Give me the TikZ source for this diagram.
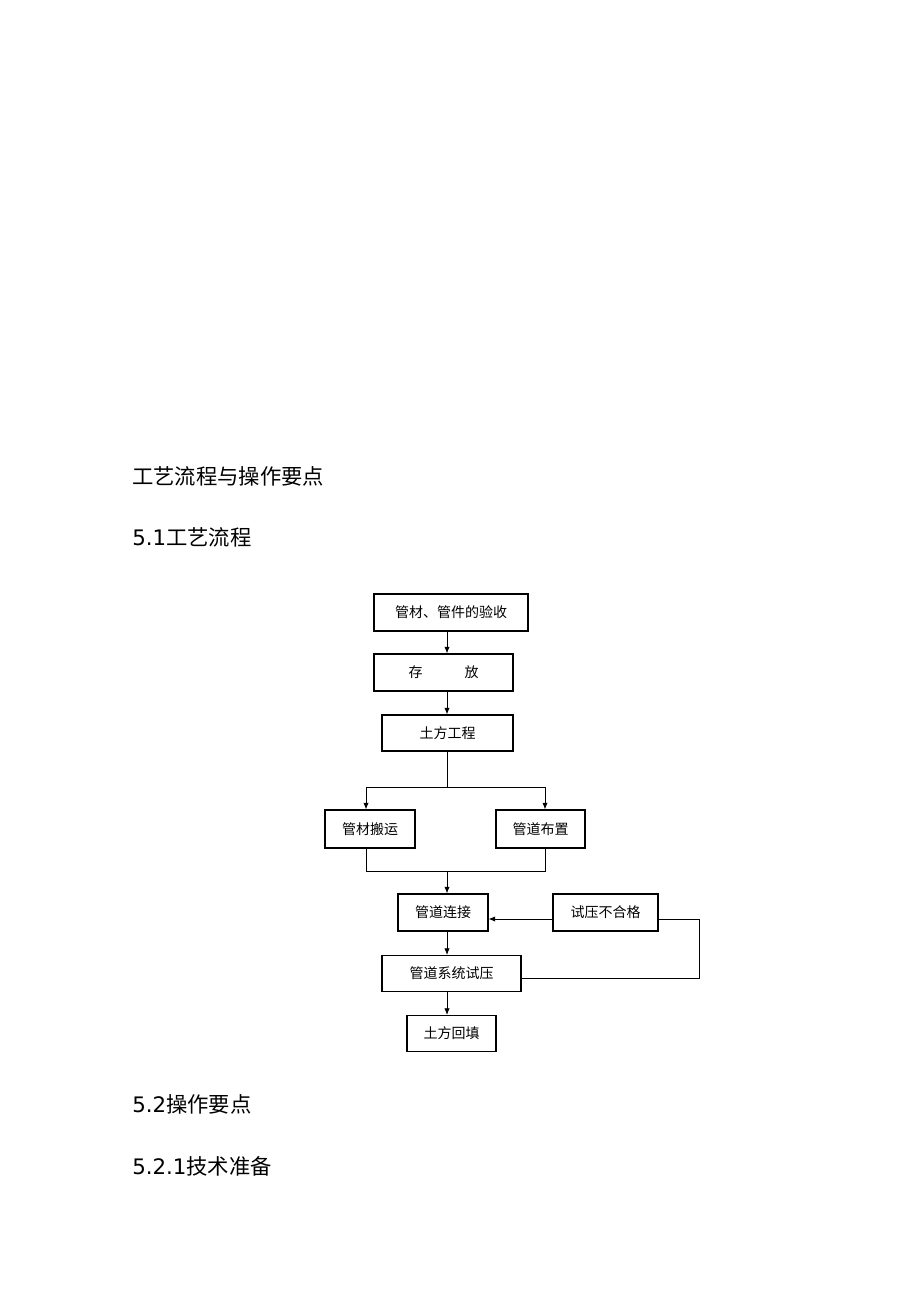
\documentclass[tikz,border=0pt]{standalone}
\usepackage{fontspec}
\setmainfont{DejaVu Sans}
\newfontfamily\cjk{Noto Sans CJK SC}
\usetikzlibrary{arrows.meta}
\tikzset{
  flowbox/.style={draw,line width=0.8pt,inner sep=0pt,font=\cjk\fontsize{10.5}{12}\selectfont},
  heading/.style={anchor=west,inner sep=0pt,font=\fontsize{16}{18}\selectfont},
  flowline/.style={line width=0.6pt},
  flowarrow/.style={line width=0.6pt,-{Latex[length=5pt,width=4pt]}}
}
\begin{document}
\begin{tikzpicture}[x=0.75pt,y=0.75pt,yscale=-1,xscale=1]
\useasboundingbox (0,0) rectangle (920,1303);

% Headings
\node[heading] (h1) at (132,476) {\cjk 工艺流程与操作要点};
\node[heading] (h2) at (132,537) {5.1\cjk 工艺流程};
\node[heading] (h3) at (132,1104) {5.2\cjk 操作要点};
\node[heading] (h4) at (132,1166) {5.2.1\cjk 技术准备};

% Boxes
\node[flowbox,minimum width=115.5pt,minimum height=27.75pt] (yanshou) at (451,612.5) {管材、管件的验收};
\node[flowbox,minimum width=104.25pt,minimum height=27.75pt] (cunfang) at (443.5,672.5) {存\hspace{3em}放};
\node[flowbox,minimum width=98.25pt,minimum height=27pt] (tufang) at (447.5,733) {土方工程};
\node[flowbox,minimum width=67.5pt,minimum height=28.5pt] (banyun) at (370,829) {管材搬运};
\node[flowbox,minimum width=66.75pt,minimum height=28.5pt] (buzhi) at (540.5,829) {管道布置};
\node[flowbox,minimum width=67.5pt,minimum height=27.75pt] (lianjie) at (443,912.5) {管道连接};
\node[flowbox,minimum width=78.75pt,minimum height=27.75pt] (buhege) at (605.5,912.5) {试压不合格};
\node[flowbox,minimum width=104.25pt,minimum height=27pt,anchor=north,inner sep=4pt] (shiya) at (451.5,955) {管道系统试压};
\node[flowbox,minimum width=66.75pt,minimum height=27pt,anchor=north,inner sep=4pt] (huitian) at (451.5,1015) {土方回填};

% Connectors
\coordinate (split) at (447,787);
\coordinate (merge) at (447,871);
\draw[flowarrow] (yanshou.south -| 447,0) -- (cunfang.north -| 447,0);
\draw[flowarrow] (cunfang.south -| 447,0) -- (tufang.north -| 447,0);
\draw[flowline] (tufang.south -| split) -- (split);
\draw[flowarrow] (split) -| (banyun.north -| 366,0);
\draw[flowarrow] (split) -| (buzhi.north -| 545,0);
\draw[flowline] (banyun.south -| 366,0) |- (merge);
\draw[flowline] (buzhi.south -| 545,0) |- (merge);
\draw[flowarrow] (merge) -- (lianjie.north -| merge);
\draw[flowarrow] (buhege.west |- 0,919) -- (lianjie.east |- 0,919);
\draw[flowarrow] (lianjie.south -| 447,0) -- (shiya.north -| 447,0);
\draw[flowline] (shiya.east |- 0,978) -- (699,978) |- (buhege.east |- 0,919);
\draw[flowarrow] (shiya.south -| 447,0) -- (huitian.north -| 447,0);

\end{tikzpicture}
\end{document}
